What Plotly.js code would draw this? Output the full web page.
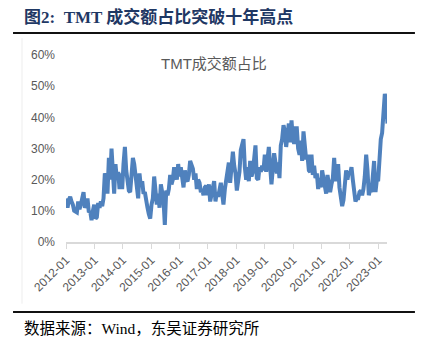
<!DOCTYPE html>
<html>
<head>
<meta charset="utf-8">
<script src="https://cdn.plot.ly/plotly-3.0.1.min.js"></script>
<style>
html,body{margin:0;padding:0;background:#fff;}
#chart{width:431px;height:344px;}
</style>
</head>
<body>
<div id="chart"></div>
<script>
// TMT turnover share (%), sampled roughly every 2.5 weeks from early Jan 2012
const startDate = '2012-01-04';
const stepDays = 17.16;
const tmtShare = [
14,11,13.5,14.5,13,12,10,9.5,9.5,13,10.5,12,13.5,16,11,12,14,9.5,10,7,10,12,7.5,8,12.5,11,13,11.5,14,
22,21,15.5,27,20,30,22,15.5,25,20,22.5,17,22,17,25,30.5,23,19,16.5,16,20,27,25,21,16,14,22,18,19.5,15.5,16,
12.5,11,9,7.5,12,14,21,17,12,15.5,11,18.5,15,13.5,5.5,16.5,15,17,21.5,18.5,20,24,22,20,25,21,
24,19.5,17.5,23,20,19.5,21.5,26,25,23.5,20,22,17,20,19,16,17,15,17.5,18,15,
18.5,13,15,17.5,19.5,13,16,14.5,17.5,19,15.5,12,17,20,22,25.5,19,26.5,29,24.5,22,
16.5,20,22.5,29.5,31,33,24,20,24,19.5,26,21,22.5,28,31,20.5,20,24,22.5,24.5,23,
28,22.5,26.5,30.5,24,18.5,23.5,28.5,25.5,22,25.5,20.5,31,33,37.5,35.5,30.5,36.5,38,32,39,
33,31.5,36.5,36.5,30,28,32.5,26,35.5,30,26.5,28,23,22.5,28,21.5,24.5,20.5,22,17,20.5,17.5,
23,20.5,17.5,15.5,21.5,18.5,16,18.5,20.5,27,19.5,22,25,17.5,15,11.5,13.5,17,23,20,22.5,
22,24,20,16,13,14,14,16,16.5,15,17,21,28,23,15,17,16,21,26,16,20,
19.5,27,33,35,44,47.5,45,38
];
const tickYears = ['2012-01-01','2013-01-01','2014-01-01','2015-01-01','2016-01-01','2017-01-01',
  '2018-01-01','2019-01-01','2020-01-01','2021-01-01','2022-01-01','2023-01-01'];
const tickLabels = ['2012-01','2013-01','2014-01','2015-01','2016-01','2017-01',
  '2018-01','2019-01','2020-01','2021-01','2022-01','2023-01'];
const yTicks = [0,10,20,30,40,50,60];
const yLabels = ['0%','10%','20%','30%','40%','50%','60%'];

const t0 = Date.parse(startDate + 'T00:00:00Z');
const dates = tmtShare.map((_, i) => new Date(t0 + i * stepDays * 864e5).toISOString().slice(0, 10));

const trace = {
  x: dates, y: tmtShare, type: 'scatter', mode: 'lines',
  line: {color: '#4F81BD', width: 4}, hoverinfo: 'skip'
};

const layout = {
  width: 431, height: 344,
  margin: {l: 66, r: 44, t: 55, b: 102},
  paper_bgcolor: '#ffffff', plot_bgcolor: '#ffffff',
  showlegend: false,
  font: {family: 'Liberation Sans, Arial, sans-serif', color: '#595959', size: 12},
  xaxis: {
    type: 'date', range: ['2012-01-01', '2023-04-25'],
    tickvals: tickYears, ticktext: tickLabels, tickangle: -45,
    showgrid: false, zeroline: false,
    showline: true, linecolor: '#D9D9D9', linewidth: 1.5,
    ticks: 'outside', ticklen: 5, tickcolor: '#D9D9D9', tickwidth: 1,
    tickfont: {family: 'Liberation Sans, Arial, sans-serif', size: 12, color: '#595959'}
  },
  yaxis: {
    range: [0, 60], tickvals: yTicks, ticktext: yLabels,
    showgrid: false, zeroline: false, showline: false, ticks: '',
    ticklabelstandoff: 10,
    tickfont: {family: 'Liberation Sans, Arial, sans-serif', size: 12, color: '#595959'}
  },
  shapes: [
    {type: 'line', xref: 'paper', yref: 'paper', x0: -0.165, x1: 1.087, y0: 1.1176, y1: 1.1176,
     line: {color: '#111111', width: 2}},
    {type: 'line', xref: 'paper', yref: 'paper', x0: -0.165, x1: 1.087, y0: -0.374, y1: -0.374,
     line: {color: '#111111', width: 2}},
    {type: 'line', xref: 'paper', yref: 'paper', x0: -0.137, x1: -0.137, y0: -0.33, y1: 1.09,
     line: {color: '#EDEDED', width: 1}}
  ],
  annotations: [
    {xref: 'paper', yref: 'paper', x: -0.137, y: 1.205, xanchor: 'left', yanchor: 'middle',
     showarrow: false, text: '<b>图2:  TMT 成交额占比突破十年高点</b>',
     font: {family: 'Liberation Serif, Noto Sans CJK SC, serif', size: 17, color: '#1F3864'}},
    {xref: 'paper', yref: 'paper', x: 0.461, y: 0.957, xanchor: 'center', yanchor: 'middle',
     showarrow: false, text: 'TMT成交额占比',
     font: {family: 'Liberation Sans, Noto Sans CJK SC, sans-serif', size: 15, color: '#595959'}},
    {xref: 'paper', yref: 'paper', x: -0.137, y: -0.465, xanchor: 'left', yanchor: 'middle',
     showarrow: false, text: '数据来源：Wind，东吴证券研究所',
     font: {family: 'Liberation Serif, Noto Sans CJK SC, serif', size: 15.5, color: '#000000'}}
  ]
};

Plotly.newPlot('chart', [trace], layout, {staticPlot: true, displayModeBar: false});
</script>
</body>
</html>
